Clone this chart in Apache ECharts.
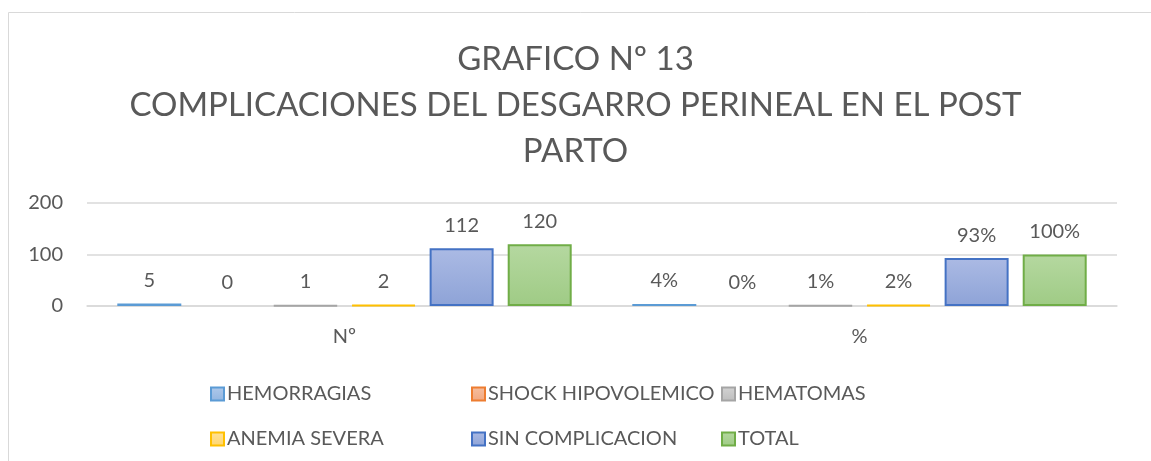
<!DOCTYPE html>
<html>
<head>
<meta charset="utf-8">
<script src="https://cdn.jsdelivr.net/npm/echarts@6/dist/echarts.min.js"></script>
<style>
  html, body { margin: 0; padding: 0; background: #fff; }
  #main { width: 1151px; height: 461px; }
</style>
</head>
<body>
<div id="main"></div>
<script>
var categories = ['Nº', '%'];
var seriesNames = ['HEMORRAGIAS', 'SHOCK HIPOVOLEMICO', 'HEMATOMAS', 'ANEMIA SEVERA', 'SIN COMPLICACION', 'TOTAL'];
var hemorragias = [5, 4];
var shock = [0, 0];
var hematomas = [1, 1];
var anemia = [2, 2];
var sinComplicacion = [112, 93];
var total = [120, 100];
var yTicks = [0, 100, 200];

(function () {
    var chartDom = document.getElementById('main');
    var myChart = echarts.init(chartDom);
    var option;

    var fontFam = 'Lato, "Open Sans", sans-serif';
    var txt = '#595959';
    var line = '#d9d9d9';

    var styles = [
        { border: '#5B9BD5', top: '#AFC9EB', bot: '#92B5E0' },
        { border: '#ED7D31', top: '#F6BFA0', bot: '#F2A77F' },
        { border: '#A5A5A5', top: '#D3D3D3', bot: '#BDBDBD' },
        { border: '#FFC000', top: '#FFE29A', bot: '#FFD66E' },
        { border: '#4472C4', top: '#ABBAE4', bot: '#8EA3D7' },
        { border: '#70AD47', top: '#B5D8A0', bot: '#9FCB85' }
    ];
    var values = [hemorragias, shock, hematomas, anemia, sinComplicacion, total];

    var series = seriesNames.map(function (name, i) {
        var s = styles[i];
        return {
            name: name,
            type: 'bar',
            barWidth: 64,
            barGap: '22%',
            // bars with value 0 get no outline, like the original
            data: values[i].map(function (v) {
                return v === 0 ? { value: v, itemStyle: { borderWidth: 0 } } : v;
            }),
            itemStyle: {
                color: new echarts.graphic.LinearGradient(0, 0, 0, 1, [
                    { offset: 0, color: s.top },
                    { offset: 1, color: s.bot }
                ]),
                borderColor: s.border,
                borderWidth: 2
            },
            label: {
                show: true,
                position: 'top',
                distance: 13,
                color: txt,
                fontSize: 20,
                fontFamily: fontFam,
                formatter: function (p) {
                    return p.dataIndex === 1 ? p.value + '%' : p.value;
                }
            }
        };
    });

    // one legend per item so the columns line up
    var legendLeft = [205, 466, 716];
    var legendTop = [379, 424];
    var legends = seriesNames.map(function (name, i) {
        return {
            data: [name],
            top: legendTop[Math.floor(i / 3)],
            left: legendLeft[i % 3],
            itemWidth: 13,
            itemHeight: 13,
            itemGap: 0,
            icon: 'rect',
            selectedMode: false,
            textStyle: {
                color: txt,
                fontSize: 20,
                fontFamily: fontFam,
                padding: [0, 0, 0, -2]
            }
        };
    });

    option = {
        animation: false,
        title: {
            text: 'GRAFICO Nº 13\nCOMPLICACIONES DEL DESGARRO PERINEAL EN EL POST\nPARTO',
            left: 'center',
            top: 31,
            textStyle: {
                color: txt,
                fontSize: 33,
                fontWeight: 'normal',
                fontFamily: fontFam,
                lineHeight: 46
            }
        },
        legend: legends,
        grid: {
            left: 87,
            right: 34,
            top: 203,
            height: 103
        },
        xAxis: {
            type: 'category',
            data: categories,
            axisLine: { lineStyle: { color: line, width: 1.5 } },
            axisTick: { show: false },
            axisLabel: { color: txt, fontSize: 20, fontFamily: fontFam, margin: 21 }
        },
        yAxis: {
            type: 'value',
            min: yTicks[0],
            max: yTicks[yTicks.length - 1],
            interval: 100,
            axisLine: { show: false },
            axisTick: { show: false },
            axisLabel: { color: txt, fontSize: 20, fontFamily: fontFam, margin: 24 },
            splitLine: { lineStyle: { color: line, width: 1.5 } }
        },
        graphic: [{
            type: 'rect',
            shape: { x: 8.5, y: 12.5, width: 1200, height: 600 },
            style: { fill: null, stroke: line, lineWidth: 1 },
            silent: true
        }],
        series: series
    };

    myChart.setOption(option);
    window.addEventListener('resize', function () {
        myChart.resize();
    });
})();
</script>
</body>
</html>
